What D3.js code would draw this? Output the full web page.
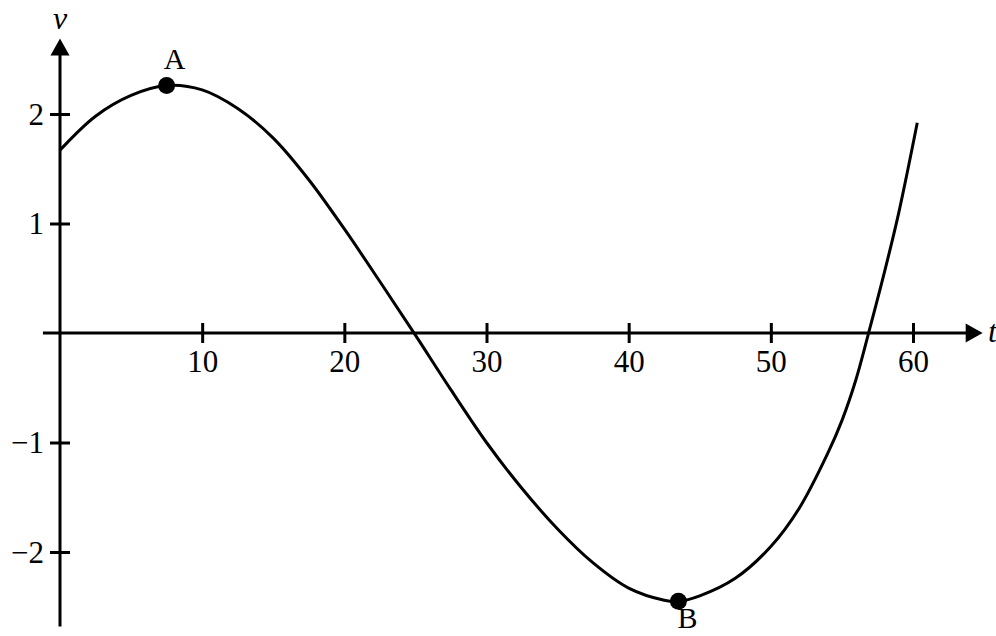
<!DOCTYPE html>
<html>
<head>
<meta charset="utf-8">
<script src="https://cdn.jsdelivr.net/npm/d3@7"></script>
<style>
  body { margin: 0; background: #fff; }
  svg { display: block; }
</style>
</head>
<body>
<div id="chart"></div>
<script>
// data
const tValues = [0, 2.5, 5, 7.5, 10, 12.5, 15, 17.5, 20, 22.5, 25, 27.5, 30, 32.5, 35, 37.5, 40, 42.5, 43.5, 45, 47.5, 50, 52, 54, 55, 56, 57, 58, 59, 60.3];
const vValues = [1.67, 1.98, 2.17, 2.26, 2.22, 2.05, 1.78, 1.40, 0.95, 0.47, -0.02, -0.52, -1.00, -1.42, -1.79, -2.10, -2.33, -2.44, -2.45, -2.40, -2.24, -1.95, -1.60, -1.10, -0.80, -0.42, 0.06, 0.56, 1.10, 1.92];
const xTicks = [10, 20, 30, 40, 50, 60];
const yTicks = [-2, -1, 1, 2];
const pointNames = ["A", "B"];
const pointT = [7.5, 43.5];
const pointV = [2.26, -2.45];

const width = 996, height = 636;
const font = "'Liberation Serif', 'Times New Roman', serif";

const svg = d3.select("#chart").append("svg")
    .attr("width", width)
    .attr("height", height);

const x = d3.scaleLinear().domain([0, 60]).range([60, 913]);
const y = d3.scaleLinear().domain([-2, 2]).range([552, 114]);

// axis lines
svg.append("line")
    .attr("x1", x(-1.2)).attr("x2", x(63.8))
    .attr("y1", y(0)).attr("y2", y(0))
    .attr("stroke", "#000").attr("stroke-width", 3);
svg.append("line")
    .attr("x1", x(0)).attr("x2", x(0))
    .attr("y1", y(-2.68)).attr("y2", y(2.58))
    .attr("stroke", "#000").attr("stroke-width", 3);

// arrow heads
const xt = x(64.9), yt = y(2.69);
svg.append("path")
    .attr("d", `M${xt},${y(0)} L${xt - 17},${y(0) - 9.5} L${xt - 17},${y(0) + 9.5} Z`)
    .attr("fill", "#000");
svg.append("path")
    .attr("d", `M${x(0)},${yt} L${x(0) - 9.5},${yt + 17} L${x(0) + 9.5},${yt + 17} Z`)
    .attr("fill", "#000");

// ticks along the x axis
const xAxis = svg.append("g")
    .attr("transform", `translate(0,${y(0)})`)
    .call(d3.axisBottom(x).tickValues(xTicks).tickSize(10).tickFormat(d3.format("d")));
xAxis.select(".domain").remove();
xAxis.selectAll(".tick line").attr("y1", -10).attr("y2", 10).attr("stroke-width", 3);
xAxis.selectAll(".tick text")
    .attr("y", 39).attr("dy", null)
    .style("font-family", font).style("font-size", "31px").attr("fill", "#000");

// ticks along the v axis
const yAxis = svg.append("g")
    .attr("transform", `translate(${x(0)},0)`)
    .call(d3.axisLeft(y).tickValues(yTicks).tickSize(10).tickFormat(d => d < 0 ? "\u2212" + Math.abs(d) : d));
yAxis.select(".domain").remove();
yAxis.selectAll(".tick line").attr("x1", -10).attr("x2", 10).attr("stroke-width", 3);
yAxis.selectAll(".tick text")
    .attr("x", -16).attr("dy", "0.33em")
    .style("font-family", font).style("font-size", "31px").attr("fill", "#000");

// axis titles
svg.append("text")
    .attr("x", x(0)).attr("y", 29)
    .attr("text-anchor", "middle")
    .style("font-family", font).style("font-size", "32px").style("font-style", "italic")
    .text("v");
svg.append("text")
    .attr("x", 988).attr("y", y(0) + 9)
    .style("font-family", font).style("font-size", "32px").style("font-style", "italic")
    .text("t");

// the curve
const line = d3.line()
    .x((d, i) => x(tValues[i]))
    .y((d, i) => y(vValues[i]))
    .curve(d3.curveCatmullRom.alpha(0.5));

svg.append("path")
    .datum(tValues)
    .attr("d", line)
    .attr("fill", "none")
    .attr("stroke", "#000")
    .attr("stroke-width", 3);

// labelled points
const pts = svg.selectAll(".pt")
    .data(pointNames)
    .enter()
    .append("g")
    .attr("transform", (d, i) => `translate(${x(pointT[i])},${y(pointV[i])})`);

pts.append("circle")
    .attr("r", 8.5)
    .attr("fill", "#000");

pts.append("text")
    .attr("x", (d, i) => i === 0 ? 8 : 9)
    .attr("y", (d, i) => i === 0 ? -17 : 27)
    .attr("text-anchor", "middle")
    .style("font-family", font).style("font-size", "30px")
    .text(d => d);
</script>
</body>
</html>
